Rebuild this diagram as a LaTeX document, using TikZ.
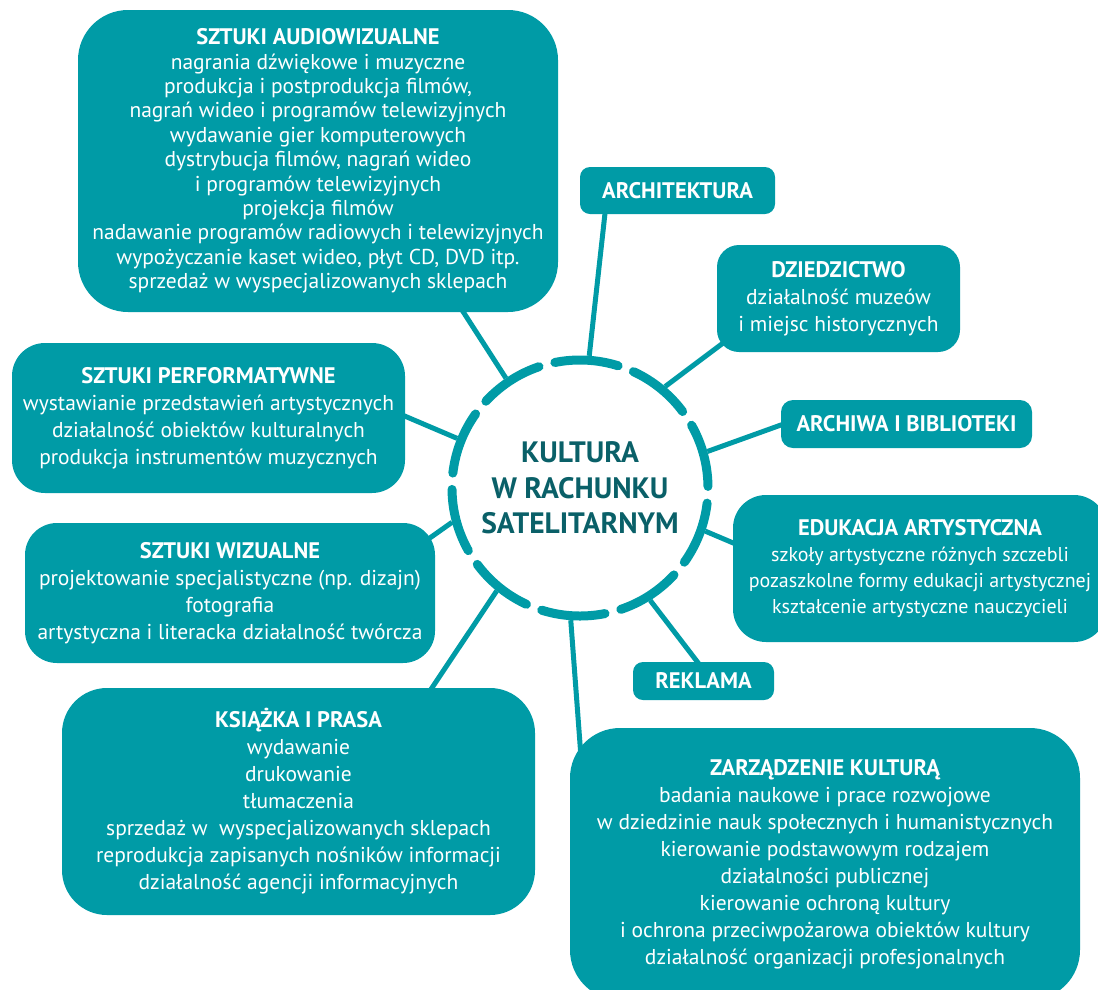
\documentclass[tikz,border=0pt]{standalone}
\usepackage{fontspec}
\setmainfont{PT Sans}
\usetikzlibrary{calc,backgrounds}
\definecolor{kbox}{RGB}{0,155,166}
\definecolor{kdark}{RGB}{10,96,104}
\newcommand{\ttl}[1]{{\bfseries\fontsize{22.5}{27}\selectfont #1}}
\tikzset{
    box/.style={fill=kbox, text=white, align=center, inner sep=0pt,
        font=\fontsize{21.5}{27}\selectfont},
    link/.style={draw=kbox, line width=5pt},
    ring/.style={draw=kbox, line width=9pt, line cap=round,
        dash pattern=on 64pt off 16.4pt, dash phase=78.8pt},
}
\begin{document}
\begin{tikzpicture}[x=1pt,y=-1pt]
    \useasboundingbox (0,0) rectangle (1098,989);
    \clip (0,0) rectangle (1098,989);
    % centre
    \node[circle, minimum size=265pt, inner sep=0pt, outer sep=0pt, align=center,
        text=kdark, font=\bfseries\fontsize{29.5}{35.5}\selectfont] (kultura) at (580,488)
        {KULTURA\\W RACHUNKU\\SATELITARNYM};
    \draw[ring] (kultura.center) circle (128pt);
    % boxes
    \node[box, minimum width=480pt, minimum height=302pt, rounded corners=50pt,
        font=\fontsize{21.5}{24.4}\selectfont] (audio) at (318,161)
        {\ttl{SZTUKI AUDIOWIZUALNE}\\
        nagrania dźwiękowe i muzyczne\\
        produkcja i postprodukcja filmów,\\
        nagrań wideo i programów telewizyjnych\\
        wydawanie gier komputerowych\\
        dystrybucja filmów, nagrań wideo\\
        i programów telewizyjnych\\
        projekcja filmów\\
        nadawanie programów radiowych i telewizyjnych\\
        wypożyczanie kaset wideo, płyt CD, DVD itp.\\
        sprzedaż w wyspecjalizowanych sklepach};
    \node[box, minimum width=195pt, minimum height=47pt, rounded corners=10pt] (archi)
        at (677.5,190.5) {\ttl{ARCHITEKTURA}};
    \node[box, minimum width=243pt, minimum height=107pt, rounded corners=22pt] (dziedz)
        at (838.5,298.5) {\ttl{DZIEDZICTWO}\\
        działalność muzeów\\
        i miejsc historycznych};
    \node[box, minimum width=251pt, minimum height=48pt, rounded corners=12pt] (archiwa)
        at (906.5,424) {\ttl{ARCHIWA I BIBLIOTEKI}};
    \node[box, minimum width=374pt, minimum height=147pt, rounded corners=33pt,
        font=\fontsize{20}{26}\selectfont] (eduk)
        at (920,568.5) {\ttl{EDUKACJA ARTYSTYCZNA}\\
        szkoły artystyczne różnych szczebli\\
        pozaszkolne formy edukacji artystycznej\\
        kształcenie artystyczne nauczycieli};
    \node[box, minimum width=141pt, minimum height=38pt, rounded corners=10pt] (reklama)
        at (703.5,681) {\ttl{REKLAMA}};
    \node[box, minimum width=510pt, minimum height=272pt, rounded corners=50pt] (zarzad)
        at (825,864) {\ttl{ZARZĄDZENIE KULTURĄ}\\
        badania naukowe i prace rozwojowe\\
        w dziedzinie nauk społecznych i humanistycznych\\
        kierowanie podstawowym rodzajem\\
        działalności publicznej\\
        kierowanie ochroną kultury\\
        i ochrona przeciwpożarowa obiektów kultury\\
        działalność organizacji profesjonalnych};
    \node[box, minimum width=473pt, minimum height=227pt, rounded corners=45pt] (ksiazka)
        at (298.5,801.5) {\ttl{KSIĄŻKA I PRASA}\\
        wydawanie\\
        drukowanie\\
        tłumaczenia\\
        sprzedaż w\ \ wyspecjalizowanych sklepach\\
        reprodukcja zapisanych nośników informacji\\
        działalność agencji informacyjnych};
    \node[box, minimum width=410pt, minimum height=140pt, rounded corners=32pt] (wizual)
        at (230,593) {\ttl{SZTUKI WIZUALNE}\\
        projektowanie specjalistyczne (np. dizajn)\\
        fotografia\\
        artystyczna i literacka działalność twórcza};
    \node[box, minimum width=393pt, minimum height=150pt, rounded corners=33pt] (perform)
        at (208.5,418) {\ttl{SZTUKI PERFORMATYWNE}\\
        wystawianie przedstawień artystycznych\\
        działalność obiektów kulturalnych\\
        produkcja instrumentów muzycznych};
    % connectors
    \begin{scope}[on background layer]
        \draw[link] (kultura.124) -- ($(audio.south)+(139,-10)$);
        \draw[link] (kultura.86) -- ($(archi.south)+(-71.5,-10)$);
        \draw[link] (kultura.50) -- ($(dziedz.south west)+(18,-18)$);
        \draw[link] (kultura.16) -- ($(archiwa.west)+(14,-4)$);
        \draw[link] (kultura.-19) -- ($(eduk.west)+(17,-18.5)$);
        \draw[link] (kultura.-58) -- ($(reklama.north)+(1.5,10)$);
        \draw[link] (kultura.-94) -- ($(zarzad.north west)+(12,40)$);
        \draw[link] (kultura.-129) -- ($(ksiazka.north)+(125.5,12)$);
        \draw[link] (kultura.-165) -- ($(wizual.north east)+(-15,22)$);
        \draw[link] (kultura.158) -- ($(perform.east)+(-10,-6)$);
    \end{scope}
\end{tikzpicture}
\end{document}
